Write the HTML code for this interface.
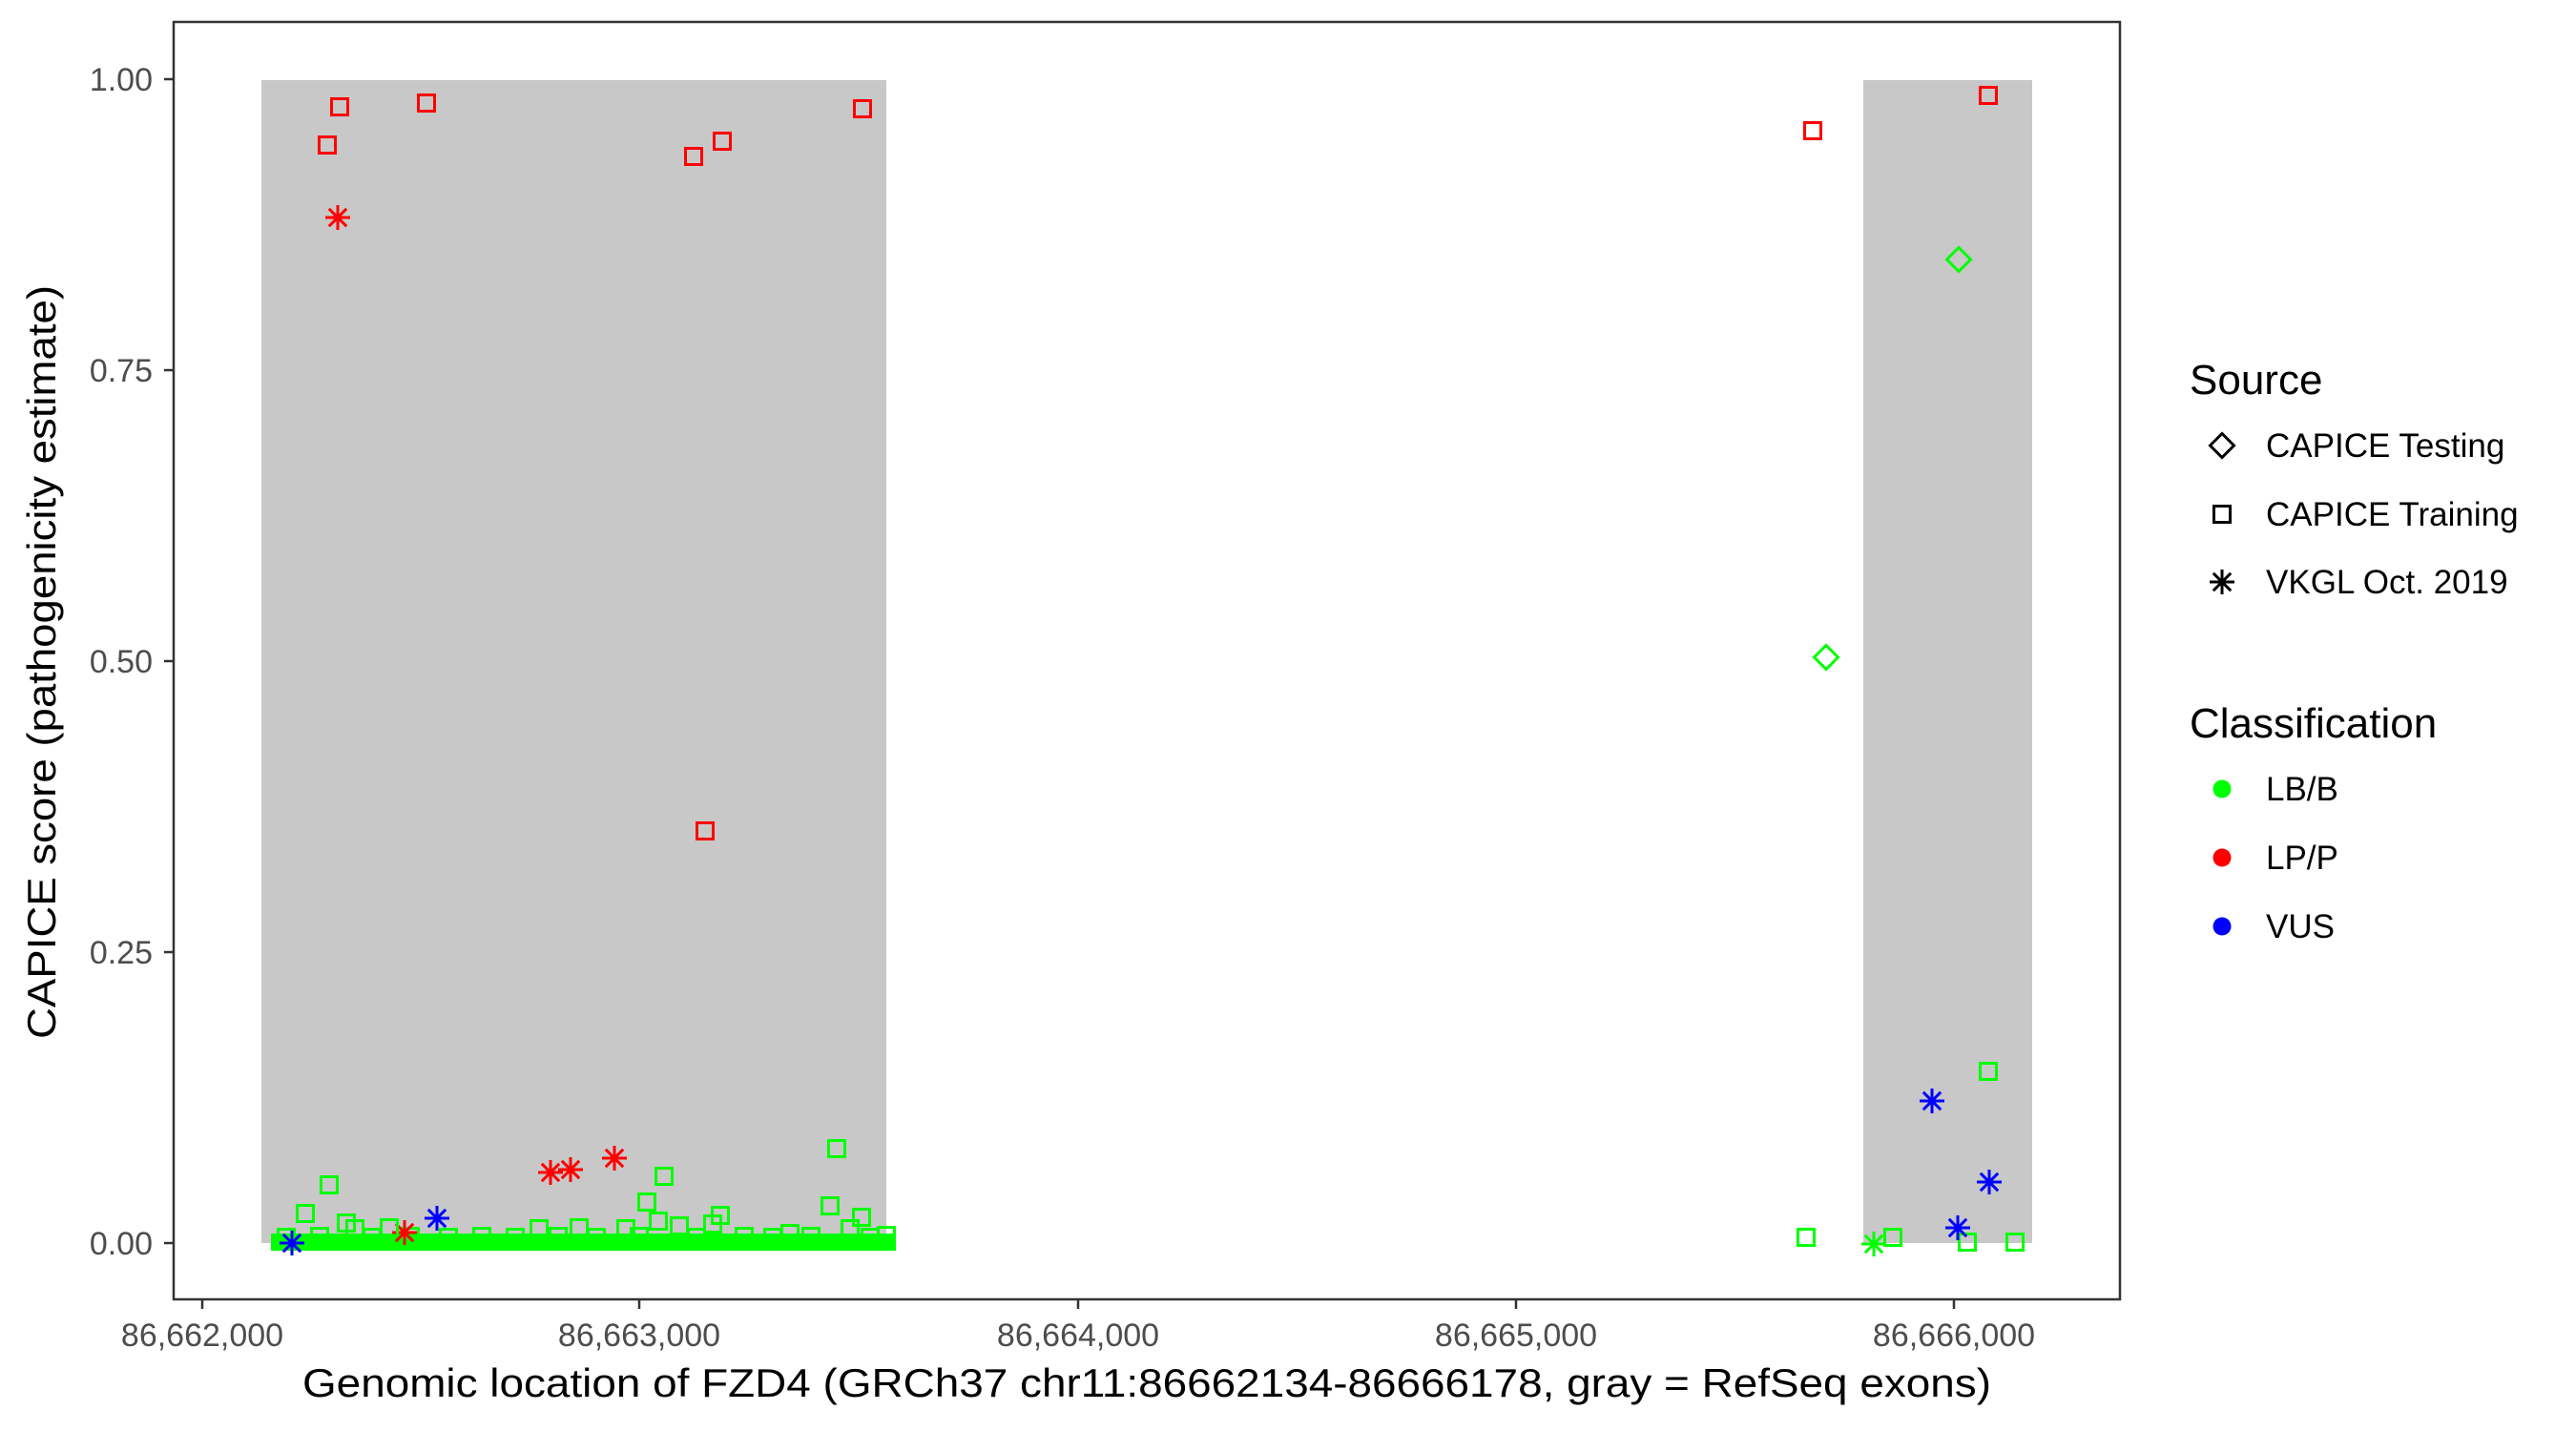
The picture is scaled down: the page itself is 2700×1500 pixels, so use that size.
<!DOCTYPE html>
<html><head><meta charset="utf-8"><style>
html,body{margin:0;padding:0;background:#fff}
svg{display:block}
text{font-family:"Liberation Sans",Arial,sans-serif}
</style></head><body>
<svg width="2700" height="1500" viewBox="0 0 2700 1500" xmlns="http://www.w3.org/2000/svg">
<defs>
<g id="sq"><rect x="-8.5" y="-8.5" width="17" height="17" fill="none" stroke-width="3"/></g>
<g id="st"><path d="M-13 0H13M0 -13V13M-9.2 -9.2L9.2 9.2M-9.2 9.2L9.2 -9.2" fill="none" stroke-width="3"/></g>
<g id="dm"><path d="M-12.5 0L0 -12.5L12.5 0L0 12.5Z" fill="none" stroke-width="3"/></g>
</defs>
<rect x="0" y="0" width="2700" height="1500" fill="#fff"/>
<rect x="274" y="84" width="655" height="1219" fill="#c8c8c8"/>
<rect x="1953" y="84" width="177" height="1219" fill="#c8c8c8"/>

<!-- dense green band -->
<rect x="284" y="1293" width="655" height="18" fill="#00ff00"/>
<g stroke="#00ff00">
<use href="#sq" x="300" y="1297"/><use href="#sq" x="335" y="1296"/><use href="#sq" x="390" y="1297"/>
<use href="#sq" x="430" y="1296"/><use href="#sq" x="470" y="1297"/><use href="#sq" x="505" y="1296"/>
<use href="#sq" x="540" y="1297"/><use href="#sq" x="585" y="1296"/><use href="#sq" x="625" y="1297"/>
<use href="#sq" x="670" y="1296"/><use href="#sq" x="730" y="1297"/><use href="#sq" x="780" y="1296"/>
<use href="#sq" x="810" y="1297"/><use href="#sq" x="850" y="1296"/><use href="#sq" x="912" y="1297"/>
</g>

<g stroke="#ff0000">
<use href="#sq" x="356" y="112"/>
<use href="#sq" x="447" y="108"/>
<use href="#sq" x="343" y="152"/>
<use href="#sq" x="727" y="164"/>
<use href="#sq" x="757" y="148"/>
<use href="#sq" x="904" y="114"/>
<use href="#sq" x="739" y="871"/>
<use href="#sq" x="1900" y="137"/>
<use href="#sq" x="2084" y="100"/>
<use href="#st" x="354" y="228"/>
<use href="#st" x="424" y="1292"/>
<use href="#st" x="577" y="1229"/>
<use href="#st" x="598" y="1226"/>
<use href="#st" x="644" y="1214"/>
</g>
<g stroke="#00ff00">
<use href="#sq" x="320" y="1272"/>
<use href="#sq" x="345" y="1242"/>
<use href="#sq" x="363" y="1282"/>
<use href="#sq" x="372" y="1288"/>
<use href="#sq" x="408" y="1287"/>
<use href="#sq" x="565" y="1288"/>
<use href="#sq" x="607" y="1287"/>
<use href="#sq" x="656" y="1288"/>
<use href="#sq" x="696" y="1233"/>
<use href="#sq" x="678" y="1260"/>
<use href="#sq" x="690" y="1280"/>
<use href="#sq" x="712" y="1285"/>
<use href="#sq" x="747" y="1283"/>
<use href="#sq" x="755" y="1274"/>
<use href="#sq" x="828" y="1293"/>
<use href="#sq" x="877" y="1204"/>
<use href="#sq" x="870" y="1264"/>
<use href="#sq" x="891" y="1288"/>
<use href="#sq" x="903" y="1276"/>
<use href="#sq" x="929" y="1295"/>
<use href="#sq" x="2084" y="1123"/>
<use href="#sq" x="1893" y="1297"/>
<use href="#sq" x="1984" y="1297"/>
<use href="#sq" x="2062" y="1302"/>
<use href="#sq" x="2112" y="1302"/>
<use href="#st" x="1964" y="1304"/>
<use href="#dm" x="2053" y="272"/>
<use href="#dm" x="1914" y="689"/>
</g>
<g stroke="#0000ff">
<use href="#st" x="306" y="1303"/>
<use href="#st" x="458" y="1277"/>
<use href="#st" x="2025" y="1154"/>
<use href="#st" x="2085" y="1239"/>
<use href="#st" x="2052" y="1287"/>
</g>

<rect x="182" y="23" width="2040" height="1339" fill="none" stroke="#333" stroke-width="2.5"/>
<g stroke="#333" stroke-width="2.5">
<path d="M172 83H182M172 388H182M172 693H182M172 998H182M172 1303H182"/>
<path d="M212 1362V1372M670 1362V1372M1130 1362V1372M1589 1362V1372M2048 1362V1372"/>
</g>
<g fill="#4d4d4d" font-size="34" text-anchor="end">
<text x="160" y="95">1.00</text>
<text x="160" y="400">0.75</text>
<text x="160" y="705">0.50</text>
<text x="160" y="1010">0.25</text>
<text x="160" y="1315">0.00</text>
</g>
<g fill="#4d4d4d" font-size="34" text-anchor="middle">
<text x="212" y="1411">86,662,000</text>
<text x="670" y="1411">86,663,000</text>
<text x="1130" y="1411">86,664,000</text>
<text x="1589" y="1411">86,665,000</text>
<text x="2048" y="1411">86,666,000</text>
</g>
<text x="1202" y="1464" font-size="42" text-anchor="middle" textLength="1770" lengthAdjust="spacingAndGlyphs">Genomic location of FZD4 (GRCh37 chr11:86662134-86666178, gray = RefSeq exons)</text>
<text transform="translate(58,694) rotate(-90)" font-size="42" text-anchor="middle" textLength="790" lengthAdjust="spacingAndGlyphs">CAPICE score (pathogenicity estimate)</text>

<text x="2295" y="413" font-size="44">Source</text>
<g stroke="#000">
<use href="#dm" x="2329" y="467"/>
<use href="#sq" x="2329" y="539"/>
<use href="#st" x="2329" y="610"/>
</g>
<g font-size="35">
<text x="2375" y="479">CAPICE Testing</text>
<text x="2375" y="551">CAPICE Training</text>
<text x="2375" y="622">VKGL Oct. 2019</text>
</g>
<text x="2295" y="773" font-size="44">Classification</text>
<circle cx="2329" cy="827" r="9.5" fill="#00ff00"/>
<circle cx="2329" cy="899" r="9.5" fill="#ff0000"/>
<circle cx="2329" cy="971" r="9.5" fill="#0000ff"/>
<g font-size="35">
<text x="2375" y="839">LB/B</text>
<text x="2375" y="911">LP/P</text>
<text x="2375" y="983">VUS</text>
</g>
</svg>
</body></html>
